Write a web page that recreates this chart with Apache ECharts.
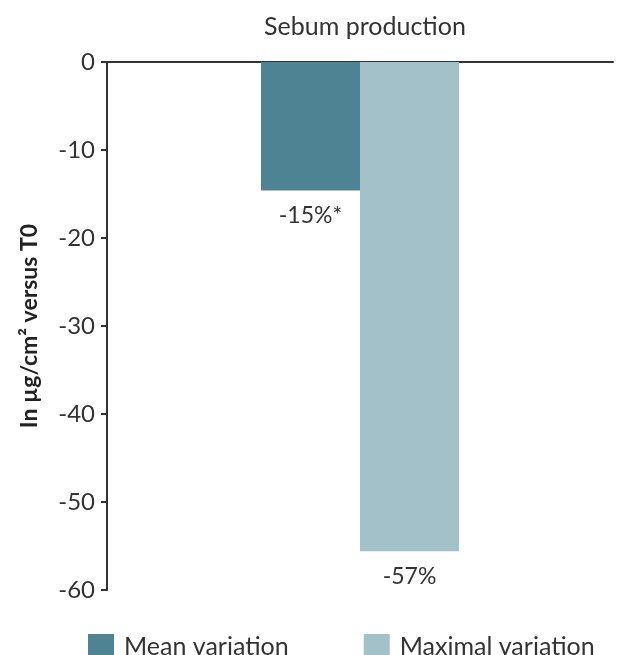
<!DOCTYPE html>
<html>
<head>
<meta charset="utf-8">
<script src="https://cdn.jsdelivr.net/npm/echarts@6/dist/echarts.min.js"></script>
<style>
  html, body { margin: 0; padding: 0; background: #fff; }
  #chart { width: 621px; height: 655px; }
</style>
</head>
<body>
<div id="chart"></div>
<script>
// Sebum production change, in µg/cm² versus T0
const categories = ['Sebum production'];
const seriesNames = ['Mean variation', 'Maximal variation'];
const meanValues = [-14.6];
const maxValues = [-55.6];
const meanLabels = ['-15%*'];
const maxLabels = ['-57%'];
const yTicks = { min: -60, max: 0, interval: 10 };

const FONT = 'Lato, "Open Sans", sans-serif';
const TEXT = '#333333';

const chart = echarts.init(document.getElementById('chart'), null, { renderer: 'canvas' });

function barLabel(texts) {
  return {
    show: true,
    position: 'bottom',
    distance: 14,
    color: TEXT,
    fontFamily: FONT,
    fontSize: 23,
    formatter: p => texts[p.dataIndex]
  };
}

chart.setOption({
  animation: false,
  textStyle: { fontFamily: FONT },
  title: {
    text: categories[0],
    left: 360,
    textAlign: 'center',
    top: 9,
    textStyle: { color: TEXT, fontFamily: FONT, fontSize: 25, fontWeight: 'normal' }
  },
  legend: {
    data: seriesNames,
    left: 83,
    top: 629,
    itemWidth: 26,
    itemHeight: 26,
    itemGap: 75,
    icon: 'rect',
    textStyle: { color: TEXT, fontFamily: FONT, fontSize: 25, padding: [0, 0, 0, 5] }
  },
  grid: { left: 107, right: 8, top: 62, bottom: 65, containLabel: false },
  xAxis: {
    type: 'category',
    data: categories,
    position: 'top',
    axisLine: { lineStyle: { color: TEXT, width: 2 } },
    axisTick: { show: false },
    axisLabel: { show: false }
  },
  yAxis: {
    type: 'value',
    min: yTicks.min,
    max: yTicks.max,
    interval: yTicks.interval,
    name: 'In µg/cm² versus T0',
    nameLocation: 'middle',
    nameGap: 66,
    nameTextStyle: { color: '#222', fontFamily: FONT, fontSize: 23, fontWeight: 'bold' },
    axisLine: { show: true, lineStyle: { color: TEXT, width: 2 } },
    axisTick: { show: true, length: 6, lineStyle: { color: TEXT, width: 2 } },
    axisLabel: { color: TEXT, fontFamily: FONT, fontSize: 24, margin: 12 },
    splitLine: { show: false }
  },
  series: [
    {
      name: seriesNames[0],
      type: 'bar',
      data: meanValues,
      barWidth: 99,
      barGap: '0%',
      itemStyle: { color: '#4d8393' },
      label: barLabel(meanLabels)
    },
    {
      name: seriesNames[1],
      type: 'bar',
      data: maxValues,
      barWidth: 99,
      barGap: '0%',
      itemStyle: { color: '#a3c1c9' },
      label: barLabel(maxLabels)
    }
  ]
});
</script>
</body>
</html>
